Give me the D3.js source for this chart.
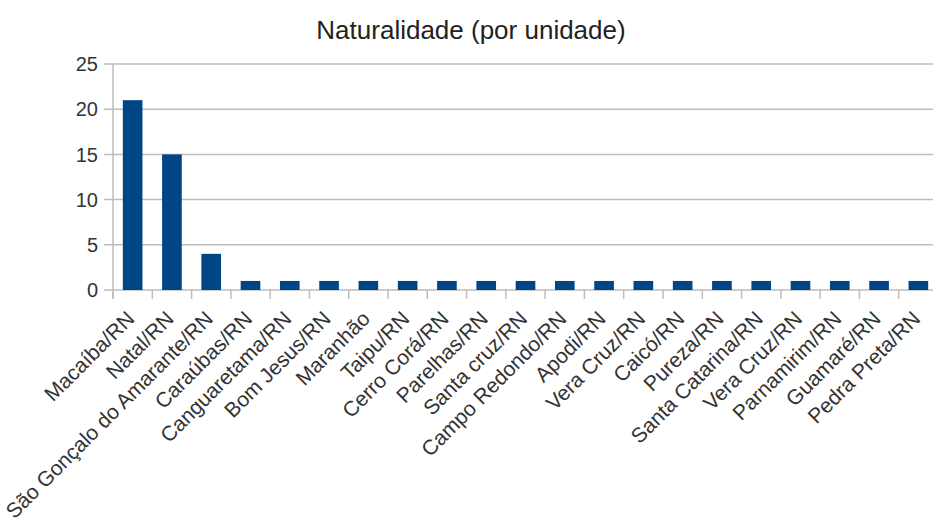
<!DOCTYPE html>
<html><head><meta charset="utf-8">
<script src="https://cdn.jsdelivr.net/npm/d3@7"></script>
<style>
html,body{margin:0;padding:0;background:#fff;}
svg{display:block;font-family:"Liberation Sans",Arial,sans-serif;}
</style></head>
<body><svg id="c" width="933" height="523"></svg>
<script>
const title = "Naturalidade (por unidade)";
const categories = ["Macaíba/RN","Natal/RN","São Gonçalo do Amarante/RN","Caraúbas/RN","Canguaretama/RN","Bom Jesus/RN","Maranhão","Taipu/RN","Cerro Corá/RN","Parelhas/RN","Santa cruz/RN","Campo Redondo/RN","Apodi/RN","Vera Cruz/RN","Caicó/RN","Pureza/RN","Santa Catarina/RN","Vera Cruz/RN","Parnamirim/RN","Guamaré/RN","Pedra Preta/RN"];
const values = [21,15,4,1,1,1,1,1,1,1,1,1,1,1,1,1,1,1,1,1,1];
const yTicks = [0,5,10,15,20,25];

(function(){
const svg = d3.select("#c");
const pLeft = 113, pRight = 938, pTop = 64, pBottom = 290;
const x = d3.scaleBand().domain(d3.range(categories.length)).range([pLeft, pRight]).paddingInner(0.5).paddingOuter(0.25);
const y = d3.scaleLinear().domain([0,25]).range([pBottom, pTop]);
const step = x.step();

// grid
svg.append("g").selectAll("line").data(yTicks).join("line")
  .attr("x1", pLeft-9).attr("x2", 933).attr("y1", d=>y(d)).attr("y2", d=>y(d))
  .attr("stroke", "#bdbdbd").attr("stroke-width", 1.5);

// y axis line
svg.append("line").attr("x1", pLeft).attr("x2", pLeft).attr("y1", pTop).attr("y2", pBottom+8)
  .attr("stroke", "#bdbdbd").attr("stroke-width", 1.5);

// y labels
svg.append("g").selectAll("text").data(yTicks).join("text")
  .attr("x", 98).attr("y", d=>y(d)).attr("dy", "0.36em").attr("text-anchor", "end")
  .attr("font-size", 20).attr("fill", "#333").text(d=>d);

// x ticks at band boundaries
const bounds = d3.range(categories.length+1).map(i => pLeft + i*step);
svg.append("g").selectAll("line").data(bounds).join("line")
  .attr("x1", d=>d).attr("x2", d=>d).attr("y1", pBottom).attr("y2", pBottom+9)
  .attr("stroke", "#bdbdbd").attr("stroke-width", 1.5);

// bars
svg.append("g").selectAll("rect").data(values).join("rect")
  .attr("x", (d,i)=>x(i)).attr("width", x.bandwidth())
  .attr("y", d=>y(d)).attr("height", d=>pBottom - y(d))
  .attr("fill", "#004586");

// x labels
svg.append("g").selectAll("text").data(categories).join("text")
  .attr("transform", (d,i)=>`translate(${x(i)+x.bandwidth()/2+3},${pBottom+30}) rotate(-45)`)
  .attr("text-anchor", "end").attr("font-size", 21).attr("fill", "#333").text(d=>d);

// title
svg.append("text").attr("x", 471).attr("y", 39).attr("text-anchor", "middle")
  .attr("font-size", 26).attr("fill", "#222").text(title);
})();
</script></body></html>
